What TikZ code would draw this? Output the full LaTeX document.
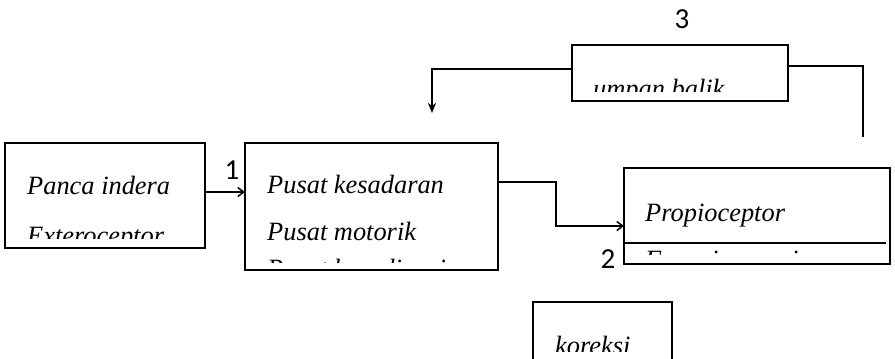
\documentclass[tikz,border=0pt]{standalone}
\usepackage{fontspec}
\setmainfont{Liberation Serif}
\newfontfamily\digitfont{Carlito}
\usetikzlibrary{arrows.meta}
\begin{document}
\begin{tikzpicture}[x=1pt,y=-1pt,
  box/.style={draw, line width=2pt, fill=white, anchor=north west,
    inner sep=0pt, outer sep=0pt},
  txt/.style={anchor=base west, inner sep=0pt,
    font=\fontsize{26.4}{30}\selectfont\itshape},
  num/.style={inner sep=0pt, font=\digitfont\fontsize{29}{32}\selectfont},
  link/.style={line width=2pt,
    -{Straight Barb[length=6pt,width=9pt,line width=1.5pt]}},
  back/.style={line width=2pt,
    -{Stealth[length=10pt,width=8pt,inset=3pt]}},
  thinlink/.style={line width=1.4pt}
]
\clip (0,0) rectangle (895,359);

% blocks
\node[box, minimum width=200pt, minimum height=105pt] (b1) at (5,143) {};
\node[box, minimum width=253pt, minimum height=127pt] (b2) at (245,143) {};
\node[box, minimum width=266pt, minimum height=96pt] (b3) at (624,168) {};
\node[box, minimum width=216pt, minimum height=56pt] (b4) at (572,45) {};
\node[box, minimum width=139pt, minimum height=80pt] (b5) at (533,302) {};
\draw[line width=1.6pt] (624,243) -- (886,243);

% block texts, cut off at the lower edge of each text frame
\node[txt] (t1a) at (27,194) {Panca indera};
\begin{scope}
  \clip (6,144) rectangle (204,238.5);
  \node[txt] (t1b) at (27,244.5) {Exteroceptor};
\end{scope}

\node[txt] (t2a) at (267,193) {Pusat kesadaran};
\node[txt] (t2b) at (267,240) {Pusat motorik};
\begin{scope}
  \clip (246,144) rectangle (497,262);
  \node[txt] (t2c) at (267,277) {Pusat koordinasi};
\end{scope}

\node[txt] (t3a) at (645,221) {Propioceptor};
\begin{scope}
  \clip (625,244.5) rectangle (889,254);
  \node[txt] (t3b) at (645,268) {Fungsi menerima};
\end{scope}

\begin{scope}
  \clip (573,46) rectangle (787,91.7);
  \node[txt] (t4) at (593,97) {umpan balik};
\end{scope}

\begin{scope}
  \clip (534,303) rectangle (671,351);
  \node[txt] (t5) at (555,354) {koreksi};
\end{scope}

% connectors
\coordinate (fb) at (432,113);
\coordinate (rb) at (863,137);
\draw[link] ([yshift=3.5pt]b1.east) -- ([yshift=3.5pt]b1.east -| b2.west);
\draw[link] ([yshift=24.5pt]b2.east) -- ++(58,0) |- ([yshift=-10pt]b3.west);
\draw[back] ([yshift=4pt]b4.west) -| (fb);
\draw[thinlink] ([yshift=7pt]b4.east) -| (rb);

% step numbers
\node[num] (n1) at (232,170) {1};
\node[num] (n2) at (608,259) {2};
\node[num] (n3) at (682,19) {3};
\end{tikzpicture}
\end{document}
